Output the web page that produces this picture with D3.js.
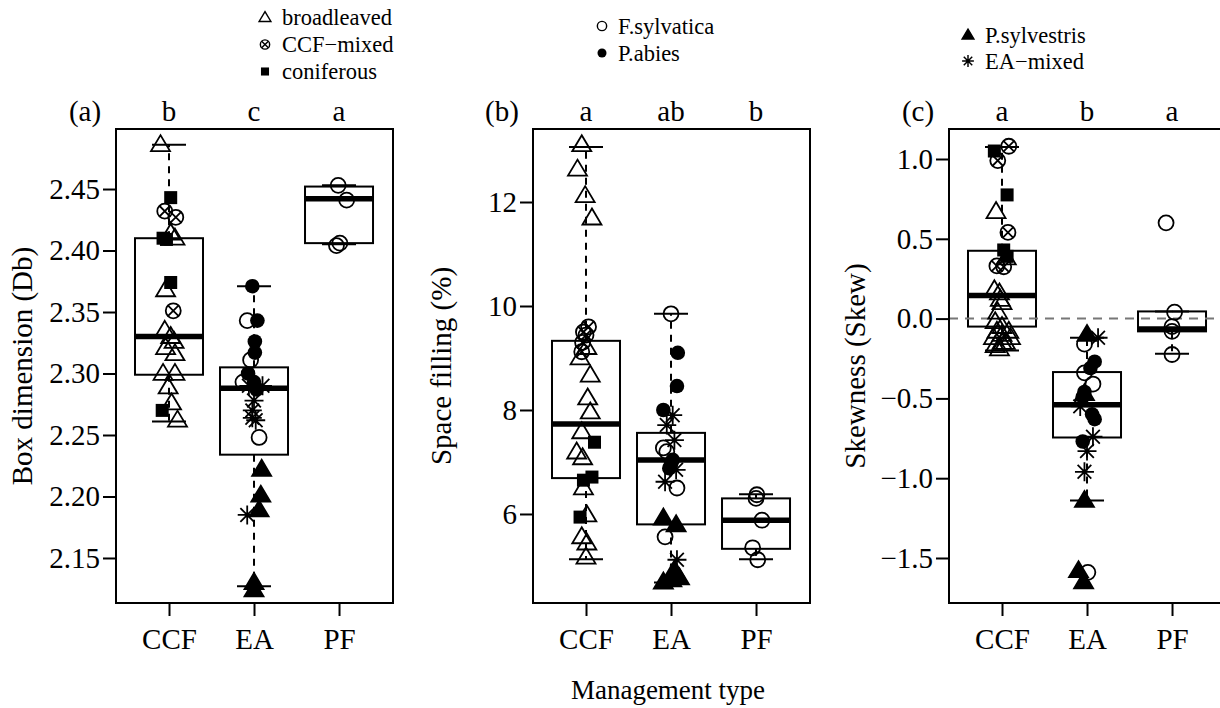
<!DOCTYPE html>
<html><head><meta charset="utf-8">
<script src="https://cdn.jsdelivr.net/npm/d3@7"></script>
<style>
body{margin:0;background:#fff}
svg{display:block}
</style>
</head><body>
<svg id="chart" width="1220" height="708"></svg>
<script>
// ---------------- DATA ----------------
const categories = ["CCF", "EA", "PF"];
const legendLabels = {bl:"broadleaved", mx:"CCF\u2212mixed", co:"coniferous", fs:"F.sylvatica", pa:"P.abies", ps:"P.sylvestris", ea:"EA\u2212mixed"};
const panelTitles = ["(a)", "(b)", "(c)"];
const yTitles = ["Box dimension (Db)", "Space filling (%)", "Skewness (Skew)"];
const xTitle = "Management type";
const groupLetters = [["b","c","a"], ["a","ab","b"], ["a","b","a"]];

const dbTicks = [2.15, 2.20, 2.25, 2.30, 2.35, 2.40, 2.45];
const sfTicks = [6, 8, 10, 12];
const skTicks = [-1.5, -1.0, -0.5, 0.0, 0.5, 1.0];

// box stats: [lower whisker, Q1, median, Q3, upper whisker] for CCF, EA, PF
const dbStats = [[2.261, 2.299, 2.330, 2.410, 2.486], [2.127, 2.234, 2.288, 2.305, 2.371], [2.405, 2.406, 2.442, 2.452, 2.453]];
const sfStats = [[5.13, 6.69, 7.73, 9.33, 13.06], [4.68, 5.80, 7.04, 7.56, 9.85], [5.13, 5.33, 5.88, 6.30, 6.38]];
const skStats = [[-0.20, -0.05, 0.145, 0.425, 1.075], [-1.14, -0.745, -0.54, -0.335, -0.12], [-0.22, -0.08, -0.065, 0.045, 0.045]];

// points: [value, stand type, jitter (category units)]
const dbCCF = [[2.486,"bl",-0.10],[2.443,"co",0.02],[2.432,"mx",-0.05],[2.427,"mx",0.08],[2.414,"bl",0.02],[2.410,"bl",0.07],[2.410,"co",-0.07],[2.409,"co",-0.03],[2.374,"co",0.02],[2.368,"bl",-0.04],[2.351,"mx",0.05],[2.335,"bl",-0.05],[2.330,"bl",0.02],[2.326,"bl",0.06],[2.321,"bl",-0.04],[2.316,"bl",0.07],[2.300,"bl",-0.07],[2.300,"bl",0.07],[2.289,"bl",-0.01],[2.276,"bl",0.03],[2.270,"co",-0.08],[2.262,"bl",0.10]];
const dbEA = [[2.371,"pa",-0.02],[2.343,"fs",-0.08],[2.343,"pa",0.04],[2.326,"pa",0.01],[2.317,"pa",0.01],[2.311,"fs",-0.04],[2.300,"pa",-0.07],[2.293,"fs",-0.13],[2.293,"pa",0.0],[2.290,"ea",-0.06],[2.290,"ea",0.10],[2.287,"pa",0.03],[2.278,"ea",0.0],[2.270,"ea",-0.02],[2.264,"ea",-0.02],[2.262,"ea",0.02],[2.248,"fs",0.06],[2.222,"ps",0.09],[2.201,"ps",0.08],[2.189,"ps",0.06],[2.185,"ea",-0.08],[2.130,"ps",0.0],[2.124,"ps",0.0]];
const dbPF = [[2.453,"fs",-0.01],[2.441,"fs",0.09],[2.406,"fs",0.01],[2.404,"fs",-0.03]];

const sfCCF = [[13.10,"bl",-0.05],[12.63,"bl",-0.10],[12.12,"bl",-0.01],[11.69,"bl",0.07],[9.60,"mx",0.03],[9.50,"mx",-0.03],[9.44,"mx",0.0],[9.30,"mx",-0.04],[9.20,"bl",0.01],[9.12,"mx",-0.05],[9.00,"bl",-0.07],[8.67,"bl",0.05],[8.23,"bl",0.02],[7.96,"bl",0.05],[7.58,"bl",-0.05],[7.38,"co",0.10],[7.19,"bl",-0.11],[7.08,"bl",-0.04],[6.71,"co",0.07],[6.65,"co",-0.03],[6.50,"bl",-0.03],[5.98,"bl",0.01],[5.94,"co",-0.07],[5.56,"bl",-0.05],[5.44,"bl",0.01],[5.17,"bl",0.0]];
const sfEA = [[9.85,"fs",0.0],[9.10,"pa",0.08],[8.46,"pa",0.07],[8.00,"pa",-0.09],[7.90,"ea",0.02],[7.71,"ea",-0.05],[7.42,"ea",0.04],[7.27,"fs",-0.09],[7.20,"fs",-0.05],[7.04,"pa",0.02],[6.95,"pa",0.0],[6.88,"pa",-0.02],[6.85,"ea",0.06],[6.62,"ea",-0.07],[6.50,"fs",0.07],[5.92,"ps",-0.09],[5.79,"ps",0.06],[5.56,"fs",-0.07],[5.12,"ea",0.07],[4.92,"ps",0.04],[4.77,"ps",0.10],[4.73,"ps",0.01],[4.69,"ps",-0.09]];
const sfPF = [[6.37,"fs",0.01],[6.30,"fs",0.0],[5.88,"fs",0.07],[5.35,"fs",-0.04],[5.12,"fs",0.02]];

const skCCF = [[1.05,"co",-0.09],[1.08,"mx",0.08],[0.99,"mx",-0.05],[0.775,"co",0.06],[0.67,"bl",-0.07],[0.54,"mx",0.07],[0.43,"co",0.02],[0.39,"co",0.06],[0.38,"bl",0.05],[0.33,"mx",-0.06],[0.325,"mx",0.02],[0.18,"bl",-0.09],[0.16,"bl",-0.03],[0.12,"bl",-0.02],[0.10,"bl",0.0],[0.04,"bl",-0.05],[-0.02,"bl",-0.08],[-0.05,"bl",0.0],[-0.08,"bl",-0.06],[-0.08,"bl",0.08],[-0.10,"bl",0.0],[-0.12,"bl",-0.10],[-0.12,"bl",0.10],[-0.15,"bl",0.0],[-0.15,"bl",0.04],[-0.17,"bl",-0.08],[-0.19,"bl",-0.03]];
const skEA = [[-0.10,"ps",0.0],[-0.12,"ea",0.13],[-0.16,"fs",-0.03],[-0.27,"pa",0.09],[-0.31,"pa",0.04],[-0.34,"fs",-0.03],[-0.41,"fs",0.07],[-0.46,"pa",-0.03],[-0.49,"pa",-0.05],[-0.47,"ps",-0.03],[-0.55,"ea",-0.08],[-0.60,"pa",0.06],[-0.63,"pa",0.09],[-0.74,"ea",0.07],[-0.77,"pa",-0.05],[-0.83,"ea",0.0],[-0.96,"ea",-0.03],[-1.14,"ps",-0.03],[-1.58,"ps",-0.10],[-1.59,"fs",0.01],[-1.65,"ps",-0.04]];
const skPF = [[0.60,"fs",-0.07],[0.04,"fs",0.03],[-0.05,"fs",0.0],[-0.08,"fs",0.0],[-0.225,"fs",0.0]];

// ---------------- LAYOUT ----------------
const svg = d3.select("#chart");
const FONT = "'Liberation Serif','Times New Roman',Times,serif";
const TOP = 129, BOTTOM = 603;
const panels = [
  {left:116, right:393, yDomain:[2.1134, 2.4988], ticks:dbTicks, fmt:d3.format(".2f"), stats:dbStats, pts:[dbCCF, dbEA, dbPF], titleX:32, zero:false},
  {left:533, right:810, yDomain:[4.288, 13.404], ticks:sfTicks, fmt:d3.format("d"), stats:sfStats, pts:[sfCCF, sfEA, sfPF], titleX:451, zero:false},
  {left:949, right:1226, yDomain:[-1.782, 1.188], ticks:skTicks, fmt:d3.format(".1f"), stats:skStats, pts:[skCCF, skEA, skPF], titleX:865, zero:true}
];
const FS = 29;

function drawSymbol(g, type, x, y, s) {
  const lw = 1.8 * Math.max(s, 0.8);
  if (type === "bl" || type === "ps") {
    const w = 19 * s, h = 16 * s;
    g.append("path")
      .attr("d", `M${x},${y - h * 0.6}L${x + w / 2},${y + h * 0.4}L${x - w / 2},${y + h * 0.4}Z`)
      .attr("fill", type === "ps" ? "#000" : "none").attr("stroke", "#000").attr("stroke-width", lw).attr("stroke-linejoin", "miter");
  } else if (type === "mx") {
    const r = 7.5 * s, d = r * 0.72;
    g.append("circle").attr("cx", x).attr("cy", y).attr("r", r).attr("fill", "none").attr("stroke", "#000").attr("stroke-width", lw);
    g.append("path").attr("d", `M${x - d},${y - d}L${x + d},${y + d}M${x - d},${y + d}L${x + d},${y - d}`).attr("stroke", "#000").attr("stroke-width", lw);
  } else if (type === "co") {
    const a = 13 * s;
    g.append("rect").attr("x", x - a / 2).attr("y", y - a / 2).attr("width", a).attr("height", a).attr("fill", "#000");
  } else if (type === "fs") {
    g.append("circle").attr("cx", x).attr("cy", y).attr("r", 7.5 * s).attr("fill", "none").attr("stroke", "#000").attr("stroke-width", lw);
  } else if (type === "pa") {
    g.append("circle").attr("cx", x).attr("cy", y).attr("r", 7.3 * s).attr("fill", "#000");
  } else if (type === "ea") {
    const a = 9.5 * s, d = a * 0.72;
    g.append("path").attr("d", `M${x - a},${y}L${x + a},${y}M${x},${y - a}L${x},${y + a}M${x - d},${y - d}L${x + d},${y + d}M${x - d},${y + d}L${x + d},${y - d}`)
      .attr("stroke", "#000").attr("stroke-width", lw);
  }
}

panels.forEach((p, pi) => {
  const x = d3.scaleLinear().domain([0.3765, 3.635]).range([p.left, p.right]);
  const y = d3.scaleLinear().domain(p.yDomain).range([BOTTOM, TOP]);
  const g = svg.append("g");
  const boxHalf = (x(1.4) - x(1)), capHalf = (x(1.2) - x(1));

  p.stats.forEach((st, ci) => {
    const cx = x(ci + 1);
    const [lo, q1, med, q3, hi] = st;
    g.append("line").attr("x1", cx).attr("x2", cx).attr("y1", y(q3)).attr("y2", y(hi))
      .attr("stroke", "#000").attr("stroke-width", 2).attr("stroke-dasharray", "7,6");
    g.append("line").attr("x1", cx).attr("x2", cx).attr("y1", y(q1)).attr("y2", y(lo))
      .attr("stroke", "#000").attr("stroke-width", 2).attr("stroke-dasharray", "7,6");
    [lo, hi].forEach(v => g.append("line").attr("x1", cx - capHalf).attr("x2", cx + capHalf).attr("y1", y(v)).attr("y2", y(v)).attr("stroke", "#000").attr("stroke-width", 2));
    g.append("rect").attr("x", cx - boxHalf).attr("y", y(q3)).attr("width", 2 * boxHalf).attr("height", y(q1) - y(q3))
      .attr("fill", "none").attr("stroke", "#000").attr("stroke-width", 2);
    g.append("line").attr("x1", cx - boxHalf).attr("x2", cx + boxHalf).attr("y1", y(med)).attr("y2", y(med)).attr("stroke", "#000").attr("stroke-width", 5.5);
  });

  if (p.zero) {
    g.append("line").attr("x1", p.left).attr("x2", p.right).attr("y1", y(0)).attr("y2", y(0))
      .attr("stroke", "#777").attr("stroke-width", 2).attr("stroke-dasharray", "9,7");
  }

  p.pts.forEach((arr, ci) => {
    arr.forEach(d => drawSymbol(g, d[1], x(ci + 1 + d[2]), y(d[0]), 1));
  });

  g.append("rect").attr("x", p.left).attr("y", TOP).attr("width", p.right - p.left).attr("height", BOTTOM - TOP)
    .attr("fill", "none").attr("stroke", "#000").attr("stroke-width", 2);

  const ya = g.append("g").attr("transform", `translate(${p.left},0)`)
    .call(d3.axisLeft(y).tickValues(p.ticks).tickFormat(p.fmt).tickSize(13).tickPadding(3));
  ya.attr("font-family", FONT).attr("font-size", FS);
  ya.select(".domain").remove();
  ya.selectAll("line").attr("stroke-width", 2);
  ya.selectAll("text").attr("font-family", FONT).attr("font-size", FS).attr("fill", "#000");

  const xa = g.append("g").attr("transform", `translate(0,${BOTTOM})`)
    .call(d3.axisBottom(x).tickValues([1, 2, 3]).tickFormat(i => categories[i - 1]).tickSize(13).tickPadding(12));
  xa.attr("font-family", FONT).attr("font-size", FS);
  xa.select(".domain").remove();
  xa.selectAll("line").attr("stroke-width", 2);
  xa.selectAll("text").attr("font-family", FONT).attr("font-size", FS).attr("fill", "#000");

  groupLetters[pi].forEach((L, ci) => {
    g.append("text").attr("x", x(ci + 1)).attr("y", 121).attr("text-anchor", "middle")
      .attr("font-family", FONT).attr("font-size", FS).text(L);
  });
  g.append("text").attr("x", p.left - 31).attr("y", 121).attr("text-anchor", "middle")
    .attr("font-family", FONT).attr("font-size", FS).text(panelTitles[pi]);

  g.append("text").attr("transform", `translate(${p.titleX},${(TOP + BOTTOM) / 2}) rotate(-90)`)
    .attr("text-anchor", "middle").attr("font-family", FONT).attr("font-size", FS).text(yTitles[pi]);
});

svg.append("text").attr("x", 668).attr("y", 699).attr("text-anchor", "middle")
  .attr("font-family", FONT).attr("font-size", 27).text(xTitle);

const legendGroups = [
  {symX:265, txtX:282, items:[["bl", 17.5], ["mx", 44.5], ["co", 71.5]]},
  {symX:602, txtX:618, items:[["fs", 26], ["pa", 53]]},
  {symX:968, txtX:985, items:[["ps", 35], ["ea", 61]]}
];
legendGroups.forEach(lg => {
  lg.items.forEach(([t, yy]) => {
    drawSymbol(svg, t, lg.symX, yy, 0.62);
    svg.append("text").attr("x", lg.txtX).attr("y", yy).attr("dy", "0.35em")
      .attr("font-family", FONT).attr("font-size", 22.5).text(legendLabels[t]);
  });
});
</script>
</body></html>
